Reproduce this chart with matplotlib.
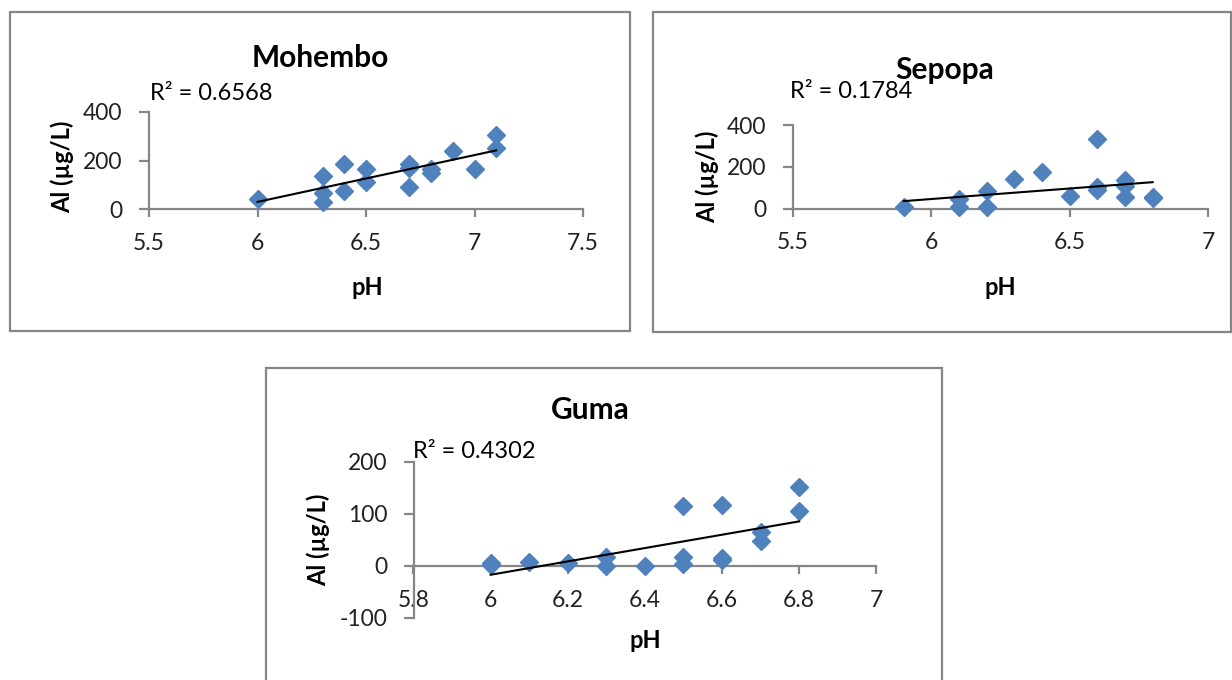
import numpy as np
import matplotlib
matplotlib.use("Agg")
from matplotlib import pyplot as plt
from matplotlib.patches import Rectangle

plt.rcParams['font.family'] = ['Lato', 'DejaVu Sans']

# Mohembo
mohembo_ph = [6.0, 6.3, 6.3, 6.3, 6.4, 6.4, 6.5, 6.5, 6.7, 6.7, 6.7, 6.8, 6.8, 6.9, 7.0, 7.1, 7.1]
mohembo_al = [40, 135, 65, 30, 185, 75, 165, 110, 185, 170, 90, 165, 150, 240, 165, 305, 250]
# Sepopa
sepopa_ph = [5.9, 6.1, 6.1, 6.2, 6.2, 6.3, 6.4, 6.5, 6.6, 6.6, 6.6, 6.7, 6.7, 6.7, 6.8, 6.8]
sepopa_al = [5, 45, 5, 85, 5, 140, 175, 60, 335, 105, 90, 135, 110, 55, 55, 48]
# Guma
guma_ph = [6.0, 6.0, 6.1, 6.2, 6.3, 6.3, 6.4, 6.5, 6.5, 6.5, 6.6, 6.6, 6.6, 6.7, 6.7, 6.8, 6.8]
guma_al = [5, 2, 8, 5, 18, 0, 0, 115, 18, 3, 118, 15, 12, 65, 48, 152, 105]

r2_labels = ['R² = 0.6568', 'R² = 0.1784', 'R² = 0.4302']

W, H = 1232, 680
fig = plt.figure(figsize=(W / 100, H / 100), dpi=100)

blue = '#4F81BD'
grey = '#868686'
TICK = 16.5
LAB = 17
TITLE = 21.5


def frame(x0, y0, x1, y1):
    r = Rectangle((x0 / W, 1 - y1 / H), (x1 - x0) / W, (y1 - y0) / H,
                  transform=fig.transFigure, fill=False, ec=grey, lw=1.6)
    fig.patches.append(r)


def txt(x, y, s, **kw):
    fig.text(x / W, 1 - y / H, s, va='center', **kw)


def panel(left, right, top, bottom, ph, al, xlim, ylim, xticks, yticks):
    ax = fig.add_axes([left / W, 1 - bottom / H, (right - left) / W, (bottom - top) / H])
    ax.plot(ph, al, 'D', color=blue, ms=9, mec=blue, clip_on=False, zorder=3)
    k, b = np.polyfit(ph, al, 1)
    xs = np.array([min(ph), max(ph)])
    ax.plot(xs, k * xs + b, color='black', lw=1.5, clip_on=False, zorder=4)
    ax.set_xlim(*xlim)
    ax.set_ylim(*ylim)
    ax.set_xticks(xticks)
    ax.set_yticks(yticks)
    ax.set_xticklabels([('%g' % t) for t in xticks])
    ax.set_yticklabels([('%g' % t) for t in yticks])
    ax.spines['top'].set_visible(False)
    ax.spines['right'].set_visible(False)
    ax.spines['bottom'].set_position(('data', 0))
    for s in ('left', 'bottom'):
        ax.spines[s].set_color(grey)
        ax.spines[s].set_linewidth(1.6)
    ax.tick_params(axis='x', direction='out', length=6, width=1.6, color=grey,
                   labelsize=TICK, pad=11, labelcolor='#222222')
    ax.tick_params(axis='y', direction='out', length=7, width=1.6, color=grey,
                   labelsize=TICK, pad=12, labelcolor='#222222')
    ax.patch.set_alpha(0)
    return ax


# Mohembo
frame(10, 12, 630, 331)
panel(149, 583, 112, 209, mohembo_ph, mohembo_al, (5.5, 7.5), (0, 400),
      [5.5, 6, 6.5, 7, 7.5], [0, 200, 400])
txt(320, 58, 'Mohembo', ha='center', fontsize=TITLE, fontweight='bold')
txt(150, 94, r2_labels[0], ha='left', fontsize=TICK + 0.5)
txt(62, 167, 'Al (µg/L)', rotation=90, ha='center', fontsize=LAB, fontweight='bold')
txt(367, 287, 'pH', ha='center', fontsize=LAB, fontweight='bold')

# Sepopa
frame(653, 12, 1231, 332)
panel(793, 1208, 125, 208.5, sepopa_ph, sepopa_al, (5.5, 7.0), (0, 400),
      [5.5, 6, 6.5, 7], [0, 200, 400])
txt(945, 70, 'Sepopa', ha='center', fontsize=TITLE, fontweight='bold')
txt(790, 92, r2_labels[1], ha='left', fontsize=TICK + 0.5)
txt(707, 177, 'Al (µg/L)', rotation=90, ha='center', fontsize=LAB, fontweight='bold')
txt(1000, 287, 'pH', ha='center', fontsize=LAB, fontweight='bold')

# Guma
frame(266, 368, 942, 690)
panel(413.5, 876.3, 462, 618, guma_ph, guma_al, (5.8, 7.0), (-100, 200),
      [5.8, 6, 6.2, 6.4, 6.6, 6.8, 7], [-100, 0, 100, 200])
txt(590, 410, 'Guma', ha='center', fontsize=TITLE, fontweight='bold')
txt(413, 452, r2_labels[2], ha='left', fontsize=TICK + 0.5)
txt(318, 540, 'Al (µg/L)', rotation=90, ha='center', fontsize=LAB, fontweight='bold')
txt(645, 640, 'pH', ha='center', fontsize=LAB, fontweight='bold')

fig.savefig('out.png', dpi=100, facecolor='white')
